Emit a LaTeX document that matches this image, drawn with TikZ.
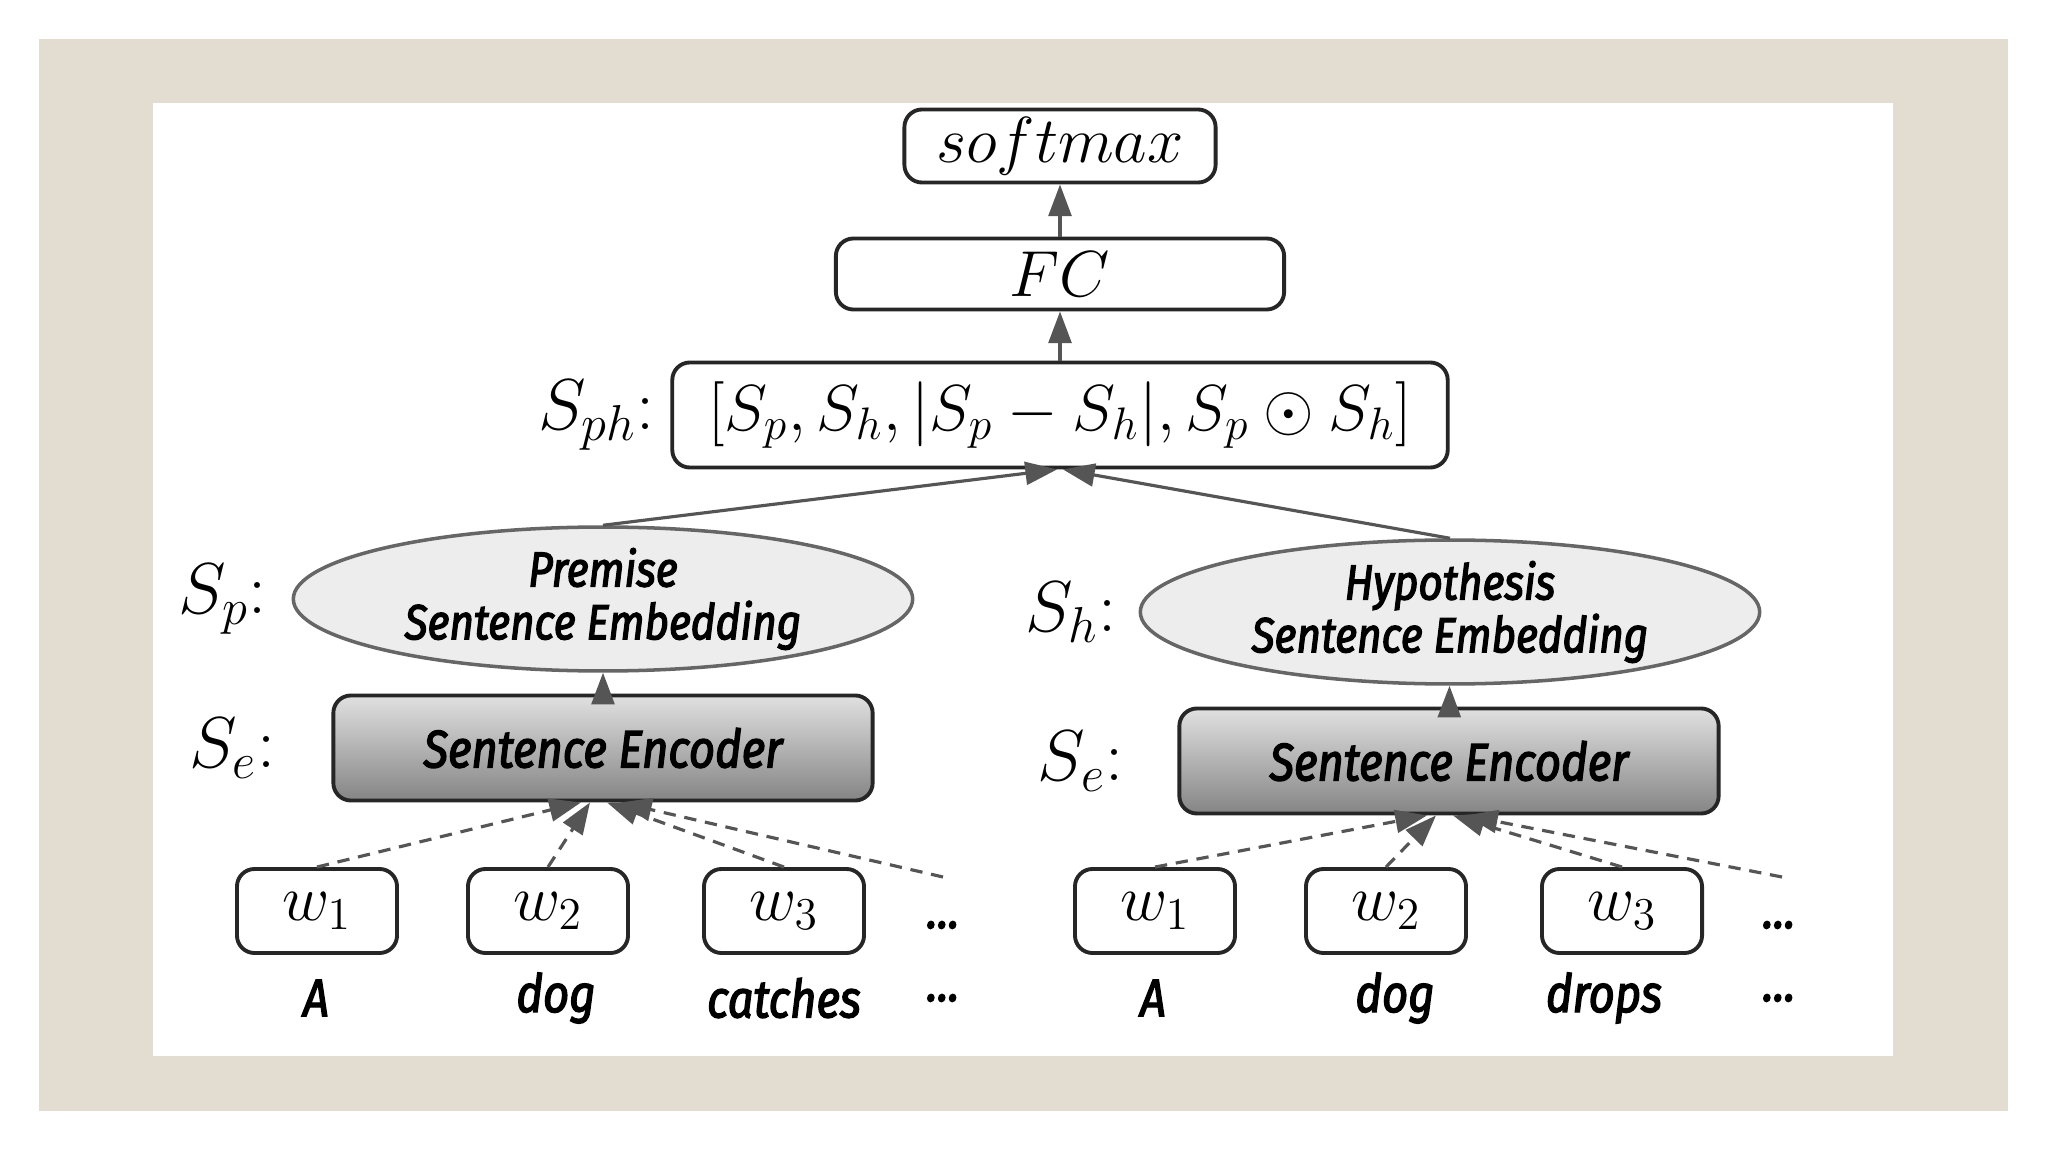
\documentclass[tikz,border=0pt]{standalone}
\usepackage{fix-cm}
\usepackage{fontspec}
\newfontfamily\lblfont[FakeStretch=0.86, FakeBold=2.6]{Fira Sans}
\usepackage{tikz}
\usetikzlibrary{arrows.meta, positioning, shapes.geometric}

\definecolor{framebg}{HTML}{E2DDD0}
\definecolor{linegray}{HTML}{555555}

\tikzset{
  box/.style={draw=black!85, line width=1.1pt, rounded corners=5pt, fill=white,
    inner sep=0pt, font=\fontsize{18.5}{21}\selectfont},
  embed/.style={ellipse, draw=black!60, line width=1pt, fill=black!7,
    minimum width=6.19cm, minimum height=1.34cm, inner sep=0pt, align=center,
    font=\lblfont\itshape\fontsize{14}{15}\selectfont},
  encoder/.style={draw=black!85, line width=1.1pt, rounded corners=5pt,
    top color=black!12, bottom color=black!48, minimum width=5.39cm,
    minimum height=1.05cm, font=\lblfont\itshape\fontsize{15}{17}\selectfont},
  word/.style={box, minimum width=1.6cm, minimum height=0.84cm},
  token/.style={font=\lblfont\itshape\fontsize{15}{17}\selectfont},
  mlabel/.style={inner sep=0pt, font=\fontsize{20.5}{23}\selectfont},
  flow/.style={draw=linegray, line width=0.9pt, -{Triangle[length=9pt, width=6.5pt]}},
  feed/.style={flow, dash pattern=on 3.5pt off 2.5pt}
}

\begin{document}
\begin{tikzpicture}[x=0.01cm, y=-0.01cm]
  \useasboundingbox (0,0) rectangle (2048,1152);
  % frame
  \fill[white] (0,0) rectangle (2048,1152);
  \fill[framebg] (39,39) rectangle (2008,1111);
  \fill[white] (153,103) rectangle (1893,1056);

  % top of the network
  \node[box, minimum width=3.11cm, minimum height=0.73cm] (soft) at (1060,146) {$softmax$};
  \node[box, minimum width=4.48cm, minimum height=0.71cm] (fc) at (1060,274) {$FC$};
  \node[box, minimum width=7.75cm, minimum height=1.05cm] (sph) at (1060,415)
    {$[S_p, S_h, |S_p - S_h|, S_p \odot S_h]$};
  \node[mlabel, left=0.15cm of sph] (sphlbl) {$S_{ph}$:};

  % premise side
  \node[embed] (pemb) at (603,599) {Premise\\Sentence Embedding};
  \node[mlabel, left=0.24cm of pemb] (plbl) {$S_p$:};
  \node[encoder] (penc) at (603,748) {Sentence Encoder};
  \node[mlabel, left=0.55cm of penc] (pelbl) {$S_e$:};
  \node[word] (pw1) at (317,911) {$w_1$};
  \node[word] (pw2) at (548,911) {$w_2$};
  \node[word] (pw3) at (784,911) {$w_3$};
  \node[token] (pdots) at (943,925) {...};
  \node[token] (pt1) at (316,998) {A};
  \node[token] (pt2) at (556,998) {dog};
  \node[token] (pt3) at (784,998) {catches};
  \node[token] (pt4) at (943,998) {...};
  \coordinate (pmore) at (943,877);

  % hypothesis side
  \node[embed] (hemb) at (1450,612) {Hypothesis\\Sentence Embedding};
  \node[mlabel, left=0.21cm of hemb] (hlbl) {$S_h$:};
  \node[encoder] (henc) at (1449,761) {Sentence Encoder};
  \node[mlabel, left=0.53cm of henc] (helbl) {$S_e$:};
  \node[word] (hw1) at (1155,911) {$w_1$};
  \node[word] (hw2) at (1386,911) {$w_2$};
  \node[word] (hw3) at (1622,911) {$w_3$};
  \node[token] (hdots) at (1779,925) {...};
  \node[token] (ht1) at (1153,998) {A};
  \node[token] (ht2) at (1395,998) {dog};
  \node[token] (ht3) at (1604,998) {drops};
  \node[token] (ht4) at (1779,998) {...};
  \coordinate (hmore) at (1782,877);

  % connectors
  \draw[flow] (fc) -- (soft);
  \draw[flow] (sph) -- (fc);
  \draw[flow] (pemb.north) -- ([xshift=-0.03cm]sph.south);
  \draw[flow] (hemb.north) -- ([xshift=0.03cm]sph.south);
  \draw[flow] (penc) -- (pemb);
  \draw[flow] (henc) -- (hemb);

  \draw[feed] (pw1.north) -- ([xshift=-0.22cm]penc.south);
  \draw[feed] (pw2.north) -- ([xshift=-0.13cm]penc.south);
  \draw[feed] (pw3.north) -- ([xshift=0.04cm]penc.south);
  \draw[feed] (pmore) -- ([xshift=0.17cm]penc.south);
  \draw[feed] (hw1.north) -- ([xshift=-0.22cm]henc.south);
  \draw[feed] (hw2.north) -- ([xshift=-0.13cm]henc.south);
  \draw[feed] (hw3.north) -- ([xshift=0.04cm]henc.south);
  \draw[feed] (hmore) -- ([xshift=0.17cm]henc.south);
\end{tikzpicture}
\end{document}
